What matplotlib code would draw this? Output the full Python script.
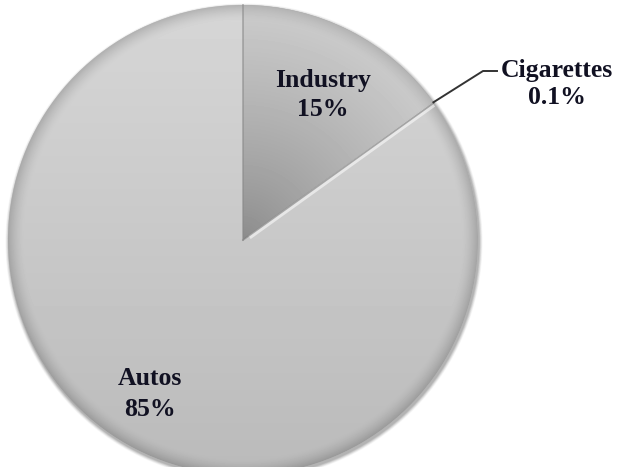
import numpy as np
import matplotlib
matplotlib.use("Agg")
import matplotlib.pyplot as plt

# Share of emissions by source
categories = ["Industry", "Cigarettes", "Autos"]
shares = [15, 0.1, 85]
share_labels = ["15%", "0.1%", "85%"]

W, H = 623, 467
fig = plt.figure(figsize=(W / 100, H / 100), dpi=100)
ax = fig.add_axes([0, 0, 1, 1])

cx, cy, R = 243, H - 240, 235

# soft drop shadow under the pie
for k, a in zip(range(6, 0, -1), [0.03, 0.04, 0.05, 0.06, 0.07, 0.08]):
    ax.add_patch(plt.Circle((cx + 1, cy - 2), R + k * 0.6, color="black", alpha=a, lw=0, zorder=0))

wedges, _ = ax.pie(shares, center=(cx, cy), radius=R, startangle=90,
                   counterclock=False,
                   colors=["#a8a8a8", "#c8c8c8", "#c6c6c6"],
                   wedgeprops=dict(linewidth=0))
ax.set_xlim(0, W)
ax.set_ylim(0, H)
ax.set_aspect("equal")
ax.axis("off")

# shaded fills for each slice
yy, xx = np.mgrid[0:H, 0:W] + 0.5
dx, dy = xx - cx, yy - cy
r = np.hypot(dx, dy) / R
rim = np.clip((r - 0.93) / 0.07, 0, 1) ** 1.6

# Autos: light grey, slightly darker toward bottom, darker rim
t = (yy - (cy - R)) / (2 * R)
autos = 0.73 + 0.11 * t - 0.14 * rim
# Industry: darker toward the centre
ind = 0.54 + 0.26 * np.clip(r, 0, 1) ** 0.8 - 0.10 * rim
fills = [ind, autos * 1.02, autos]
for wdg, g in zip(wedges, fills):
    img = np.clip(g, 0, 1)
    im = ax.imshow(img, cmap="gray", vmin=0, vmax=1, extent=(0, W, 0, H),
                   origin="lower", interpolation="bilinear", zorder=2)
    im.set_clip_path(wdg)

# bevel highlight along the Autos edge of the Industry slice
theta_edge = np.deg2rad(90 - 360 * (shares[0] + shares[1]) / sum(shares))
ex, ey = np.cos(theta_edge), np.sin(theta_edge)
ax.plot([cx + 8 * ex, cx + R * ex], [cy + 8 * ey - 2, cy + R * ey - 2],
        color="white", lw=3, alpha=0.55, solid_capstyle="butt", zorder=3)
ax.plot([cx, cx + R * ex], [cy, cy + R * ey],
        color="#7a7a7a", lw=1.2, alpha=0.6, zorder=3)
ax.plot([cx, cx], [cy, cy + R], color="#8a8a8a", lw=1.3, alpha=0.6, zorder=3)

font = dict(family="Liberation Serif", weight="bold", fontsize=18.5, color="#111122")

ax.text(323, H - 95, f"{categories[0]}\n{share_labels[0]}", ha="center", va="center",
        linespacing=1.35, zorder=5, **font)
ax.text(150, H - 394, f"{categories[2]}\n{share_labels[2]}", ha="center", va="center",
        linespacing=1.4, zorder=5, **font)

# leader line for the thin Cigarettes slice
theta_c = np.deg2rad(90 - 360 * (shares[0] + shares[1] / 2) / sum(shares))
px, py = cx + R * np.cos(theta_c), cy + R * np.sin(theta_c)
ax.plot([px, 483, 497], [py, H - 71, H - 71], color="#333333", lw=1.4, zorder=5)
ax.text(557, H - 84, f"{categories[1]}\n{share_labels[1]}", ha="center", va="center",
        linespacing=1.2, zorder=5, **font)

fig.savefig("out.png", dpi=100, facecolor="white")
